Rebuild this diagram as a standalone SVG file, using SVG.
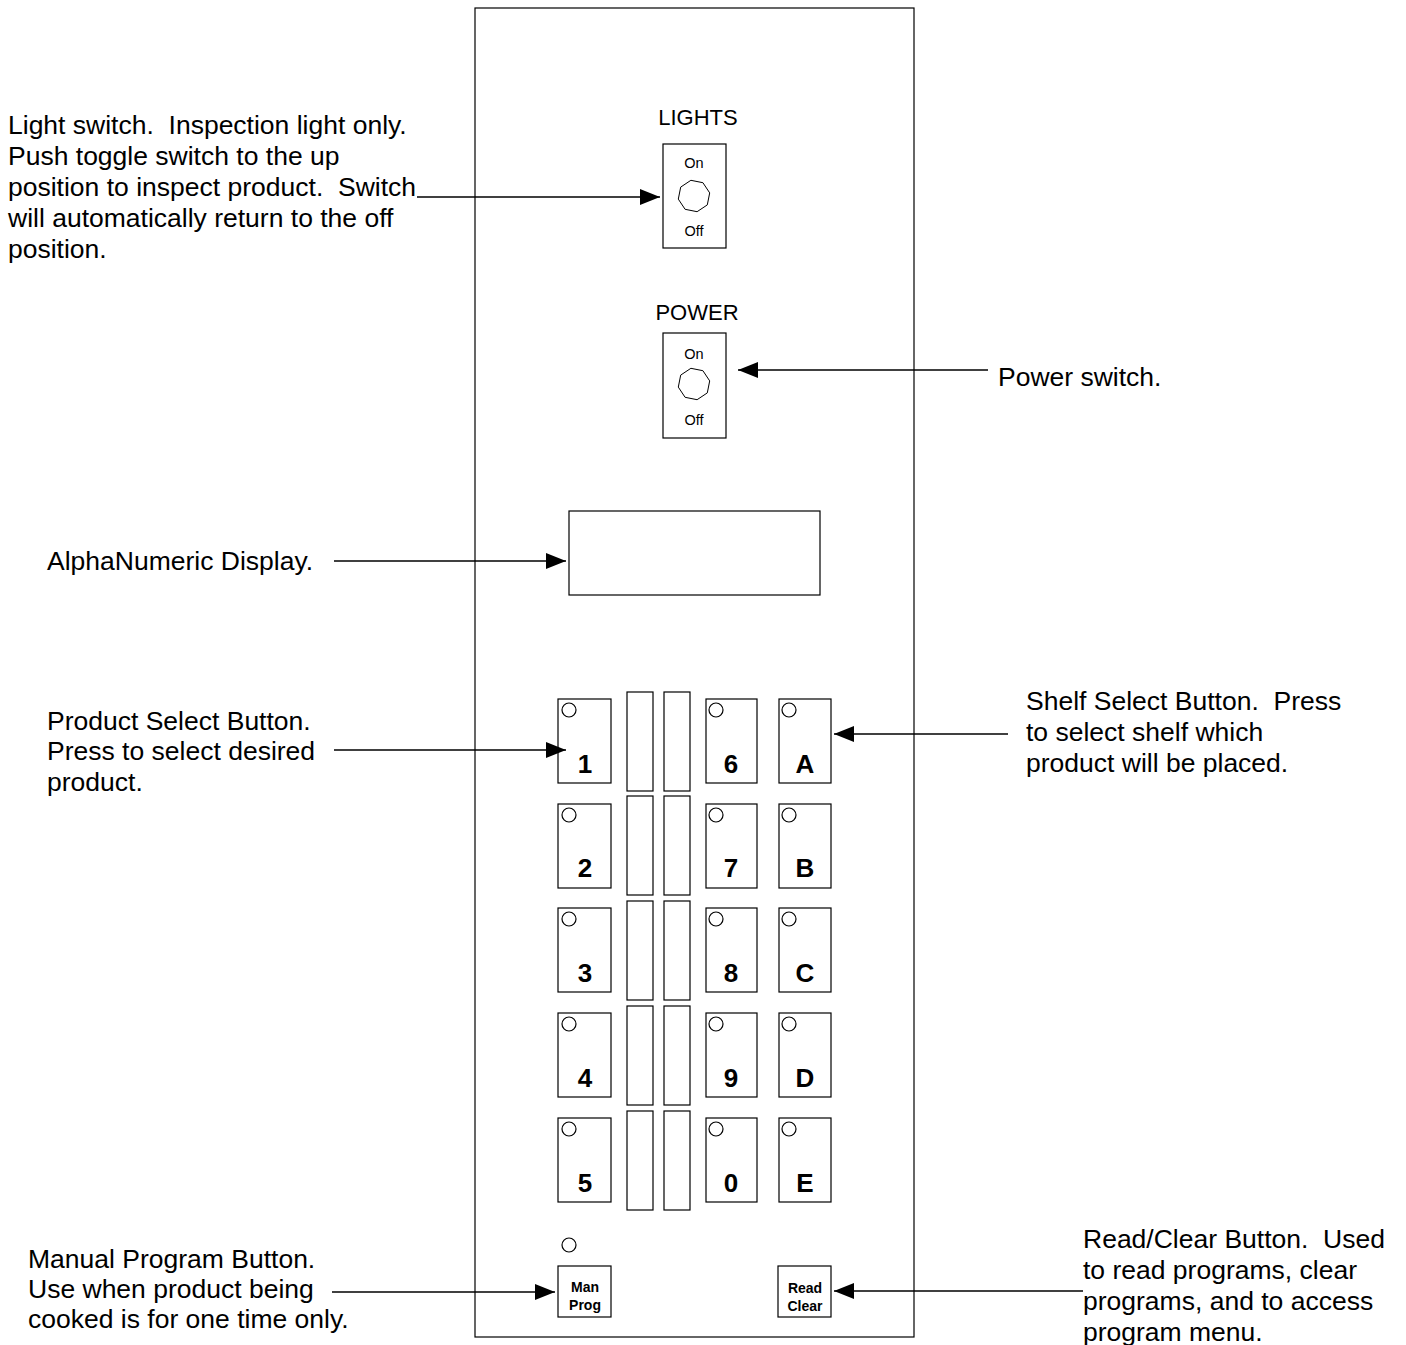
<svg xmlns="http://www.w3.org/2000/svg" width="1406" height="1345" viewBox="0 0 1406 1345">
<style>
text{font-family:"Liberation Sans",Arial,sans-serif;fill:#000;white-space:pre}
.lbl{font-size:26.5px}
.hd{font-size:22px;text-anchor:middle}
.sm{font-size:14.5px;text-anchor:middle}
.key{font-size:26px;font-weight:bold;text-anchor:middle}
.kb{font-size:14px;font-weight:bold;text-anchor:middle}
.box{fill:#fff;stroke:#000;stroke-width:1.2}
.ln{stroke:#000;stroke-width:1.5;fill:none}
</style>
<defs>
<marker id="ah" viewBox="0 0 20 16" refX="20" refY="8" markerWidth="20" markerHeight="16" markerUnits="userSpaceOnUse" orient="auto">
<path d="M0,0 L20,8 L0,16 Z" fill="#000"/>
</marker>
<polygon id="oct" points="13.3,8.9 3.1,15.7 -8.9,13.3 -15.7,3.1 -13.3,-8.9 -3.1,-15.7 8.9,-13.3 15.7,-3.1" fill="#fff" stroke="#000" stroke-width="1"/>
</defs>
<rect width="1406" height="1345" fill="#fff"/>
<g id="panel"><rect class="box" x="475" y="8" width="439" height="1329"/></g>
<g id="lights">
<text class="hd" x="698" y="125">LIGHTS</text>
<rect class="box" x="663" y="144" width="63" height="104"/>
<text class="sm" x="694" y="168">On</text>
<use href="#oct" x="694" y="196"/>
<text class="sm" x="694" y="236">Off</text>
</g>
<g id="power">
<text class="hd" x="697" y="320">POWER</text>
<rect class="box" x="663" y="333" width="63" height="105"/>
<text class="sm" x="694" y="359">On</text>
<use href="#oct" x="694" y="384"/>
<text class="sm" x="694" y="425">Off</text>
</g>
<g id="display"><rect class="box" x="569" y="511" width="251" height="84"/></g>
<g id="slots">
<rect class="box" x="627" y="692" width="26" height="99"/><rect class="box" x="664" y="692" width="26" height="99"/>
<rect class="box" x="627" y="796" width="26" height="99"/><rect class="box" x="664" y="796" width="26" height="99"/>
<rect class="box" x="627" y="901" width="26" height="99"/><rect class="box" x="664" y="901" width="26" height="99"/>
<rect class="box" x="627" y="1006" width="26" height="99"/><rect class="box" x="664" y="1006" width="26" height="99"/>
<rect class="box" x="627" y="1111" width="26" height="99"/><rect class="box" x="664" y="1111" width="26" height="99"/>
</g>
<g id="key1"><rect class="box" x="558" y="699" width="53" height="84"/><circle class="box" cx="569" cy="710" r="7"/><text class="key" x="585" y="773">1</text></g>
<g id="key2"><rect class="box" x="558" y="804" width="53" height="84"/><circle class="box" cx="569" cy="815" r="7"/><text class="key" x="585" y="877">2</text></g>
<g id="key3"><rect class="box" x="558" y="908" width="53" height="84"/><circle class="box" cx="569" cy="919" r="7"/><text class="key" x="585" y="982">3</text></g>
<g id="key4"><rect class="box" x="558" y="1013" width="53" height="84"/><circle class="box" cx="569" cy="1024" r="7"/><text class="key" x="585" y="1087">4</text></g>
<g id="key5"><rect class="box" x="558" y="1118" width="53" height="84"/><circle class="box" cx="569" cy="1129" r="7"/><text class="key" x="585" y="1192">5</text></g>
<g id="key6"><rect class="box" x="706" y="699" width="51" height="84"/><circle class="box" cx="716" cy="710" r="7"/><text class="key" x="731" y="773">6</text></g>
<g id="key7"><rect class="box" x="706" y="804" width="51" height="84"/><circle class="box" cx="716" cy="815" r="7"/><text class="key" x="731" y="877">7</text></g>
<g id="key8"><rect class="box" x="706" y="908" width="51" height="84"/><circle class="box" cx="716" cy="919" r="7"/><text class="key" x="731" y="982">8</text></g>
<g id="key9"><rect class="box" x="706" y="1013" width="51" height="84"/><circle class="box" cx="716" cy="1024" r="7"/><text class="key" x="731" y="1087">9</text></g>
<g id="key0"><rect class="box" x="706" y="1118" width="51" height="84"/><circle class="box" cx="716" cy="1129" r="7"/><text class="key" x="731" y="1192">0</text></g>
<g id="keyA"><rect class="box" x="779" y="699" width="52" height="84"/><circle class="box" cx="789" cy="710" r="7"/><text class="key" x="805" y="773">A</text></g>
<g id="keyB"><rect class="box" x="779" y="804" width="52" height="84"/><circle class="box" cx="789" cy="815" r="7"/><text class="key" x="805" y="877">B</text></g>
<g id="keyC"><rect class="box" x="779" y="908" width="52" height="84"/><circle class="box" cx="789" cy="919" r="7"/><text class="key" x="805" y="982">C</text></g>
<g id="keyD"><rect class="box" x="779" y="1013" width="52" height="84"/><circle class="box" cx="789" cy="1024" r="7"/><text class="key" x="805" y="1087">D</text></g>
<g id="keyE"><rect class="box" x="779" y="1118" width="52" height="84"/><circle class="box" cx="789" cy="1129" r="7"/><text class="key" x="805" y="1192">E</text></g>
<g id="manprog"><circle class="box" cx="569" cy="1245" r="7"/><rect class="box" x="558" y="1266" width="53" height="51"/><text class="kb" x="585" y="1292">Man</text><text class="kb" x="585" y="1310">Prog</text></g>
<g id="readclear"><rect class="box" x="778" y="1266" width="53" height="51"/><text class="kb" x="805" y="1293">Read</text><text class="kb" x="805" y="1311">Clear</text></g>
<g id="labels">
<text class="lbl" x="8" y="134">Light switch.  Inspection light only.</text>
<text class="lbl" x="8" y="165">Push toggle switch to the up</text>
<text class="lbl" x="8" y="196">position to inspect product.  Switch</text>
<text class="lbl" x="8" y="227">will automatically return to the off</text>
<text class="lbl" x="8" y="258">position.</text>
<text class="lbl" x="998" y="386">Power switch.</text>
<text class="lbl" x="47" y="570">AlphaNumeric Display.</text>
<text class="lbl" x="47" y="730">Product Select Button.</text>
<text class="lbl" x="47" y="760">Press to select desired</text>
<text class="lbl" x="47" y="791">product.</text>
<text class="lbl" x="1026" y="710">Shelf Select Button.  Press</text>
<text class="lbl" x="1026" y="741">to select shelf which</text>
<text class="lbl" x="1026" y="772">product will be placed.</text>
<text class="lbl" x="28" y="1268">Manual Program Button.</text>
<text class="lbl" x="28" y="1298">Use when product being</text>
<text class="lbl" x="28" y="1328">cooked is for one time only.</text>
<text class="lbl" x="1083" y="1248">Read/Clear Button.  Used</text>
<text class="lbl" x="1083" y="1279">to read programs, clear</text>
<text class="lbl" x="1083" y="1310">programs, and to access</text>
<text class="lbl" x="1083" y="1341">program menu.</text>
</g>
<g id="connectors">
<line class="ln" x1="417" y1="197" x2="660" y2="197" marker-end="url(#ah)"/>
<line class="ln" x1="988" y1="370" x2="738" y2="370" marker-end="url(#ah)"/>
<line class="ln" x1="334" y1="561" x2="566" y2="561" marker-end="url(#ah)"/>
<line class="ln" x1="334" y1="750" x2="566" y2="750" marker-end="url(#ah)"/>
<line class="ln" x1="1008" y1="734" x2="834" y2="734" marker-end="url(#ah)"/>
<line class="ln" x1="332" y1="1292" x2="555" y2="1292" marker-end="url(#ah)"/>
<line class="ln" x1="1083" y1="1291" x2="834" y2="1291" marker-end="url(#ah)"/>
</g>
</svg>
